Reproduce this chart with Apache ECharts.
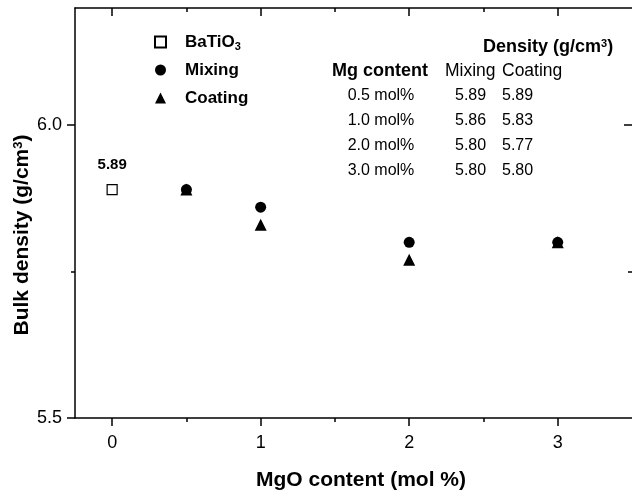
<!DOCTYPE html>
<html>
<head>
<meta charset="utf-8">
<script src="https://cdn.jsdelivr.net/npm/echarts@6/dist/echarts.min.js"></script>
<style>html,body{margin:0;padding:0;background:#fff;}#c{width:632px;height:496px;}</style>
</head>
<body>
<div id="c"></div>
<script>
var mgContent = [0.5, 1.0, 2.0, 3.0];
var mixing = [5.89, 5.86, 5.80, 5.80];
var coating = [5.89, 5.83, 5.77, 5.80];
var batio3 = [[0, 5.89]];
var xMajorTicks = [0, 1, 2, 3];
var xMinorTicks = [0.5, 1.5, 2.5];
var yMajorTicks = [5.5, 6.0];
var yMinorTicks = [5.75];

var FONT = 'Liberation Sans, Arial, Helvetica, sans-serif';
var chart = echarts.init(document.getElementById('c'));

function pairs(ys) { return mgContent.map(function (x, i) { return [x, ys[i]]; }); }

var lineStyle = { color: '#000', width: 1.5 };
function xAx(pos, ticks, len, inside, showLine, showLabel) {
  return {
    type: 'value', position: pos, min: -0.25, max: 3.5,
    axisLine: { show: showLine, onZero: false, lineStyle: lineStyle },
    axisTick: { show: true, inside: inside, length: len, customValues: ticks, lineStyle: lineStyle },
    axisLabel: showLabel ? { show: true, customValues: ticks, margin: 16, color: '#000', fontSize: 18, fontFamily: FONT } : { show: false },
    splitLine: { show: false }
  };
}
function yAx(pos, ticks, len, inside, showLine, showLabel) {
  return {
    type: 'value', position: pos, min: 5.5, max: 6.2,
    axisLine: { show: showLine, onZero: false, lineStyle: lineStyle },
    axisTick: { show: true, inside: inside, length: len, customValues: ticks, lineStyle: lineStyle },
    axisLabel: showLabel ? { show: true, customValues: ticks, margin: 13, color: '#000', fontSize: 18, fontFamily: FONT,
      formatter: function (v) { return v.toFixed(1); } } : { show: false },
    splitLine: { show: false }
  };
}

var xAxes = [
  xAx('bottom', xMajorTicks, 8, false, true, true),
  xAx('bottom', xMinorTicks, 4, false, false, false),
  xAx('top', xMajorTicks, 8, true, true, false),
  xAx('top', xMinorTicks, 4, true, false, false)
];
xAxes[0].name = 'MgO content (mol %)';
xAxes[0].nameLocation = 'middle';
xAxes[0].nameGap = 52;
xAxes[0].nameTextStyle = { color: '#000', fontSize: 21, fontWeight: 'bold', fontFamily: FONT, padding: [0, 0, 0, 15] };

var yAxes = [
  yAx('left', yMajorTicks, 8, false, true, true),
  yAx('left', yMinorTicks, 4, false, false, false),
  yAx('right', [6.0], 8, true, false, false),
  yAx('right', yMinorTicks, 4, true, false, false)
];

var rowY = function (i) { return 96 + i * 24.7; };
var tableTexts = [];
var baseText = { fill: '#000', fontSize: 16, fontFamily: FONT, verticalAlign: 'middle' };
function txt(x, y, s, extra) {
  var style = Object.assign({}, baseText, { x: x, y: y, text: s }, extra || {});
  return { type: 'text', style: style, silent: true };
}
tableTexts.push(txt(483, 47, 'Density (g/cm{sup|3})', {
  fontWeight: 'bold', fontSize: 18,
  rich: { sup: { fontSize: 11, fontWeight: 'bold', fontFamily: FONT, verticalAlign: 'top', lineHeight: 10, fill: '#000' } }
}));
tableTexts.push(txt(380, 71, 'Mg content', { fontWeight: 'bold', fontSize: 18, align: 'center' }));
tableTexts.push(txt(445, 71, 'Mixing', { fontSize: 17.5 }));
tableTexts.push(txt(502, 71, 'Coating', { fontSize: 17.5 }));
mgContent.forEach(function (m, i) {
  tableTexts.push(txt(381, rowY(i), m.toFixed(1) + ' mol%', { align: 'center' }));
  tableTexts.push(txt(455, rowY(i), mixing[i].toFixed(2)));
  tableTexts.push(txt(502, rowY(i), coating[i].toFixed(2)));
});
tableTexts.push({
  type: 'text', silent: true, x: 22, y: 235, rotation: Math.PI / 2,
  style: {
    text: 'Bulk density (g/cm{sup|3})', fill: '#000', fontSize: 21, fontWeight: 'bold', fontFamily: FONT,
    align: 'center', verticalAlign: 'middle',
    rich: { sup: { fontSize: 13, fontWeight: 'bold', fontFamily: FONT, verticalAlign: 'top', lineHeight: 11, fill: '#000' } }
  }
});

chart.setOption({
  animation: false,
  backgroundColor: '#fff',
  grid: { left: 75, top: 8, width: 559, height: 414 },
  xAxis: xAxes,
  yAxis: yAxes,
  legend: {
    orient: 'vertical', left: 149, top: 27,
    itemWidth: 11, itemHeight: 11, itemGap: 8,
    data: ['BaTiO3', 'Mixing', 'Coating'],
    formatter: function (n) { return n === 'BaTiO3' ? 'BaTiO{sub|3}' : n; },
    textStyle: {
      color: '#000', fontSize: 17, fontWeight: 'bold', fontFamily: FONT, lineHeight: 20,
      padding: [0, 0, 0, 14],
      rich: { sub: { fontSize: 11, fontWeight: 'bold', fontFamily: FONT, verticalAlign: 'bottom', lineHeight: 10, color: '#000' } }
    }
  },
  graphic: tableTexts,
  series: [
    {
      name: 'BaTiO3', type: 'scatter', xAxisIndex: 0, yAxisIndex: 0,
      symbol: 'rect', symbolSize: 10,
      itemStyle: { color: '#fff', borderColor: '#000', borderWidth: 1.2, opacity: 1 },
      label: { show: true, position: 'top', distance: 12, color: '#000', fontSize: 15, fontWeight: 'bold', fontFamily: FONT,
        formatter: function (p) { return p.value[1].toFixed(2); } },
      data: batio3
    },
    {
      name: 'Mixing', type: 'scatter', xAxisIndex: 0, yAxisIndex: 0,
      symbol: 'circle', symbolSize: 11, itemStyle: { color: '#000', opacity: 1 },
      data: pairs(mixing)
    },
    {
      name: 'Coating', type: 'scatter', xAxisIndex: 0, yAxisIndex: 0,
      symbol: 'triangle', symbolSize: 12, itemStyle: { color: '#000', opacity: 1 },
      data: pairs(coating)
    }
  ]
});
</script>
</body>
</html>
